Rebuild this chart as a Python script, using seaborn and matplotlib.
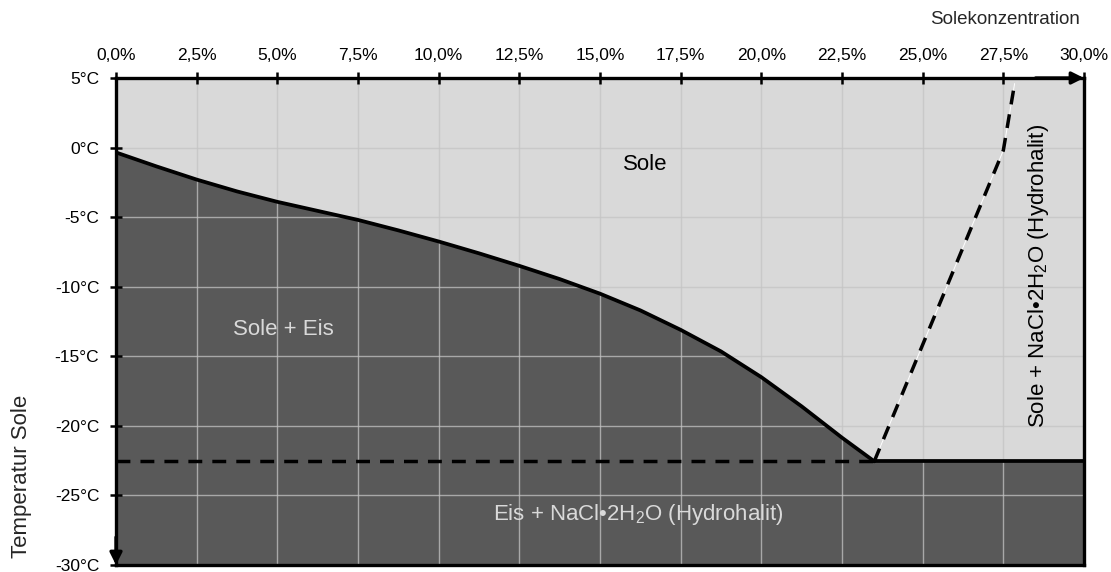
import matplotlib
matplotlib.use("Agg")
import matplotlib.pyplot as plt
import seaborn as sns
import pandas as pd

# ---- data ----
conc = [0.0, 1.25, 2.5, 3.75, 5.0, 6.25, 7.5, 8.75, 10.0, 11.25, 12.5, 13.75,
        15.0, 16.25, 17.5, 18.75, 20.0, 21.25, 22.5, 23.5]
temp_liquidus = [-0.35, -1.35, -2.3, -3.15, -3.9, -4.55, -5.2, -5.95, -6.75, -7.6, -8.5, -9.45,
                 -10.5, -11.7, -13.1, -14.65, -16.5, -18.6, -20.85, -22.55]
hydro_conc = [23.5, 27.5, 27.85]
hydro_temp = [-22.55, -0.2, 4.6]
eutectic_temp = -22.55
eutectic_conc = 23.5
x_ticks = [0.0, 2.5, 5.0, 7.5, 10.0, 12.5, 15.0, 17.5, 20.0, 22.5, 25.0, 27.5, 30.0]
y_ticks = [5, 0, -5, -10, -15, -20, -25, -30]
x_tick_labels = ["0,0%", "2,5%", "5,0%", "7,5%", "10,0%", "12,5%", "15,0%", "17,5%",
                 "20,0%", "22,5%", "25,0%", "27,5%", "30,0%"]
y_tick_labels = ["5°C", "0°C", "-5°C", "-10°C", "-15°C", "-20°C", "-25°C", "-30°C"]

sns.set_style("white")
plt.rcParams['font.family'] = ['Liberation Sans', 'DejaVu Sans']
plt.rcParams['mathtext.fontset'] = 'custom'
plt.rcParams['mathtext.rm'] = 'Liberation Sans'
plt.rcParams['mathtext.it'] = 'Liberation Sans:italic'

fig = plt.figure(figsize=(11.11, 5.72), dpi=100)
ax = fig.add_axes([116/1111, 1-565/572, (1084-116)/1111, (565-78)/572])

light = '#d9d9d9'
dark = '#595959'
ax.set_facecolor(light)
ax.set_xlim(0, 30)
ax.set_ylim(-30, 5)

# dark region: below liquidus and below eutectic line
fill_x = conc + [30.0]
fill_y = temp_liquidus + [eutectic_temp]
ax.fill_between(fill_x, fill_y, -30, color=dark, zorder=0.3, lw=0)

# grid
ax.set_axisbelow(True)
ax.grid(True, color='#c4c4c4', alpha=0.75, lw=1.0)

df_liq = pd.DataFrame({'c': conc, 't': temp_liquidus})
sns.lineplot(data=df_liq, x='c', y='t', ax=ax, color='black', lw=2.7, zorder=4, sort=False)

# eutectic line: dashed then solid
df_eut_d = pd.DataFrame({'c': [0.0, eutectic_conc], 't': [eutectic_temp, eutectic_temp]})
df_eut_s = pd.DataFrame({'c': [eutectic_conc, 30.0], 't': [eutectic_temp, eutectic_temp]})
sns.lineplot(data=df_eut_d, x='c', y='t', ax=ax, color='black', lw=2.5,
             linestyle=(0, (4, 2.9)), zorder=4, sort=False)
sns.lineplot(data=df_eut_s, x='c', y='t', ax=ax, color='black', lw=2.7, zorder=4, sort=False)

# hydrohalit boundary
df_h = pd.DataFrame({'c': hydro_conc, 't': hydro_temp})
sns.lineplot(data=df_h, x='c', y='t', ax=ax, color='white', lw=0.7, zorder=3.5, sort=False)
sns.lineplot(data=df_h, x='c', y='t', ax=ax, color='black', lw=2.5,
             linestyle=(0, (4, 2.9)), zorder=4, sort=False)

# ticks
ax.xaxis.tick_top()
ax.set_xticks(x_ticks)
ax.set_xticklabels(x_tick_labels)
ax.set_yticks(y_ticks)
ax.set_yticklabels(y_tick_labels)
ax.tick_params(axis='x', direction='inout', length=8, width=1.8, pad=6.5,
               labelsize=12.5, colors='black', top=True, bottom=False)
ax.tick_params(axis='y', direction='inout', length=8, width=1.8, pad=8,
               labelsize=12.5, colors='black', left=True)
ax.set_xlabel('')
ax.set_ylabel('')

for s in ax.spines.values():
    s.set_visible(True)
    s.set_color('black')
    s.set_linewidth(2.4)
    s.set_zorder(5)

# arrows
ax.annotate('', xy=(30, 5), xytext=(28.5, 5),
            arrowprops=dict(arrowstyle='-|>', color='black', lw=2.4, mutation_scale=18,
                            shrinkA=0, shrinkB=0),
            annotation_clip=False, zorder=6)
ax.annotate('', xy=(0, -30), xytext=(0, -28),
            arrowprops=dict(arrowstyle='-|>', color='black', lw=2.4, mutation_scale=18,
                            shrinkA=0, shrinkB=0),
            annotation_clip=False, zorder=6)

# region labels
ax.text(16.4, -1.24, 'Sole', ha='center', va='center', fontsize=16, color='black', zorder=6)
ax.text(5.2, -13.1, 'Sole + Eis', ha='center', va='center', fontsize=16, color='#d9d9d9', zorder=6)
ax.text(16.2, -26.4, 'Eis + NaCl•2H$_2$O (Hydrohalit)', ha='center', va='center',
        fontsize=16, color='#d9d9d9', zorder=6)
ax.text(28.6, -9.2, 'Sole + NaCl•2H$_2$O (Hydrohalit)', ha='center', va='center',
        rotation=90, fontsize=16, color='black', zorder=6)

# axis titles
fig.text(1080/1111, 1-20/572, 'Solekonzentration', ha='right', va='center', fontsize=13.5)
fig.text(22/1111, 1-476/572, 'Temperatur Sole', ha='center', va='center', rotation=90, fontsize=16)

fig.savefig('out.png', dpi=100)
